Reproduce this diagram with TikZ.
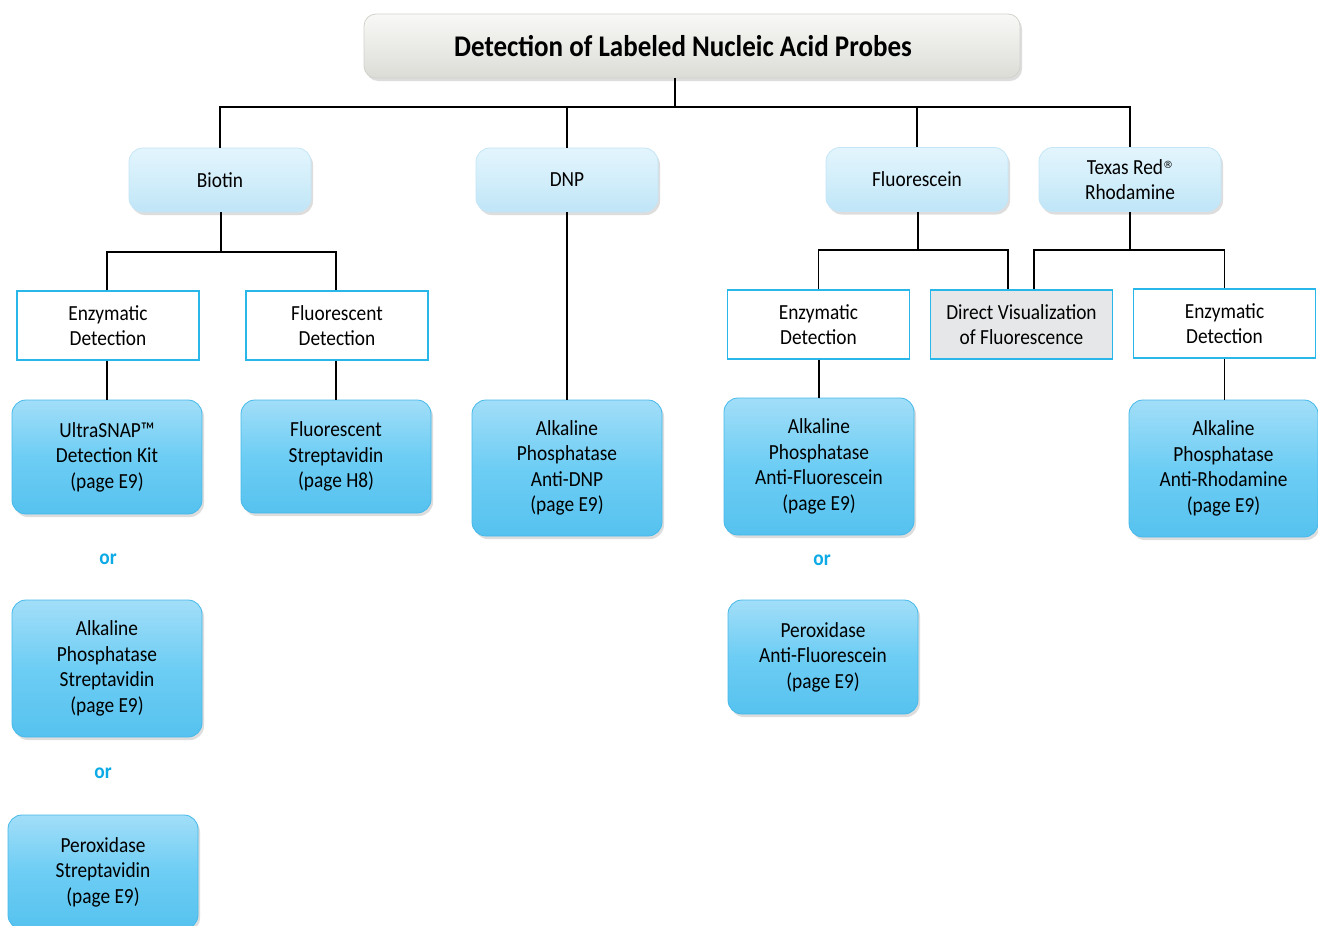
\documentclass[tikz,border=0pt]{standalone}
\usepackage{fontspec}
\setmainfont{Carlito}[FakeStretch=0.9]
\newfontfamily\symfont{DejaVu Sans}
\usetikzlibrary{shadows,calc}
\definecolor{cyanline}{HTML}{29B6E8}
\definecolor{ortext}{HTML}{0DAAE6}
\definecolor{dbtop}{HTML}{A2DEF8}
\definecolor{dbmid}{HTML}{6DCDF4}
\definecolor{dbbot}{HTML}{56C2EF}
\definecolor{dbline}{HTML}{45B9EA}
\definecolor{lbtop}{HTML}{E3F5FD}
\definecolor{lbmid}{HTML}{D2EEFA}
\definecolor{lbbot}{HTML}{BFE5F7}
\definecolor{lbline}{HTML}{C4E6F7}
\definecolor{ttop}{HTML}{F8F8F6}
\definecolor{tbot}{HTML}{DCDCD7}
\definecolor{tline}{HTML}{D2D2CD}
\definecolor{dvfill}{HTML}{E6E7E8}
\tikzset{
  base/.style={align=center, inner sep=0pt, font=\fontsize{21.5}{25.5}\selectfont},
  shad/.style={drop shadow={shadow xshift=2pt, shadow yshift=-3pt, opacity=0.22, fill=black!60}},
  darkbox/.style={base, shad, rounded corners=14pt, draw=dbline, line width=0.8pt,
     top color=dbtop, bottom color=dbbot, middle color=dbmid, minimum width=190pt},
  lightbox/.style={base, shad, rounded corners=14pt, draw=lbline, line width=0.8pt,
     top color=lbtop, bottom color=lbbot, middle color=lbmid, minimum width=182pt, minimum height=64pt},
  titlebox/.style={shad, rounded corners=12pt, draw=tline, line width=0.8pt,
     top color=ttop, bottom color=tbot, minimum width=656pt, minimum height=64pt,
     font=\fontsize{30}{32}\selectfont\bfseries},
  detbox/.style={base, draw=cyanline, line width=1.2pt, fill=white, minimum width=182pt, minimum height=69pt},
  dvbox/.style={detbox, fill=dvfill},
  ortxt/.style={text=ortext, font=\fontsize{21.5}{22}\selectfont\bfseries},
  conn/.style={draw=black, line width=1.2pt}
}
\begin{document}
\begin{tikzpicture}[x=1pt,y=-1pt]
\useasboundingbox (0,0) rectangle (1318,926);
\fill[white] (0,0) rectangle (1318,926);

% title
\node[titlebox] (title) at (692,46) {\hspace*{-18pt}Detection of Labeled Nucleic Acid Probes};

% level 2
\node[lightbox] (biotin) at (220,180) {Biotin};
\node[lightbox] (dnp) at (567,180) {DNP};
\node[lightbox] (fluor) at (917,179.5) {Fluorescein};
\node[lightbox] (texas) at (1130,179.5) {Texas Red\smash{\raisebox{6pt}{\symfont\fontsize{10}{10}\selectfont ®}}\\Rhodamine};

% level 3
\node[detbox] (enz1) at (108,325.5) {Enzymatic\\Detection};
\node[detbox] (flu1) at (337,325.5) {Fluorescent\\Detection};
\node[detbox] (enz2) at (818.5,324.5) {Enzymatic\\Detection};
\node[dvbox] (dv) at (1021.5,324.5) {Direct Visualization\\of Fluorescence};
\node[detbox] (enz3) at (1224.5,323.5) {Enzymatic\\Detection};

% products
\node[darkbox, minimum height=114pt] (ultra) at (107,457) {UltraSNAP™\\Detection Kit\\(page E9)};
\node[darkbox, minimum height=113pt] (fs) at (336,456.5) {Fluorescent\\Streptavidin\\(page H8)};
\node[darkbox, minimum height=136pt] (apdnp) at (567,468) {Alkaline\\Phosphatase\\Anti-DNP\\(page E9)};
\node[darkbox, minimum height=137pt] (apf) at (819,466.5) {Alkaline\\Phosphatase\\Anti-Fluorescein\\(page E9)};
\node[darkbox, minimum height=114pt] (pf) at (823,657) {Peroxidase\\Anti-Fluorescein\\(page E9)};
\node[darkbox, minimum width=189pt, minimum height=137pt] (apr) at (1223.5,468.5) {Alkaline\\Phosphatase\\Anti-Rhodamine\\(page E9)};
\node[darkbox, minimum height=137pt] (aps) at (107,668.5) {Alkaline\\Phosphatase\\Streptavidin\\(page E9)};
\node[darkbox, minimum height=114pt] (ps) at (103,872) {Peroxidase\\Streptavidin\\(page E9)};

% or labels
\node[ortxt] (or1) at (108,559) {or};
\node[ortxt] (or2) at (103,773) {or};
\node[ortxt] (or3) at (822,560) {or};

% connectors
\coordinate (b0) at (675,107);
\draw[conn] (title.south -| b0) -- (b0);
\draw[conn] (biotin.north) |- (b0) -| (texas.north);
\draw[conn] (dnp.north) -- (dnp.north |- b0);
\draw[conn] (fluor.north) -- (fluor.north |- b0);

\coordinate (b1) at (221,252);
\draw[conn] (biotin.south -| b1) -- (b1);
\draw[conn] (enz1.north -| ultra.north) |- (b1) -| (flu1.north -| fs.north);
\draw[conn] (enz1.south -| ultra.north) -- (ultra.north);
\draw[conn] (flu1.south -| fs.north) -- (fs.north);

\draw[conn] (dnp.south -| apdnp.north) -- (apdnp.north);

\coordinate (f1) at (918,250);
\draw[conn] (fluor.south -| f1) -- (f1);
\draw[conn] (enz2.north) |- (f1) -| ([xshift=-13.5pt]dv.north);
\draw[conn] (enz2.south -| apf.north) -- (apf.north);

\coordinate (t1) at (1130,250);
\draw[conn] (texas.south -| t1) -- (t1);
\draw[conn] ([xshift=12.5pt]dv.north) |- (t1) -| (enz3.north);
\draw[conn] (enz3.south) -- (enz3.south |- apr.north);
\end{tikzpicture}
\end{document}
